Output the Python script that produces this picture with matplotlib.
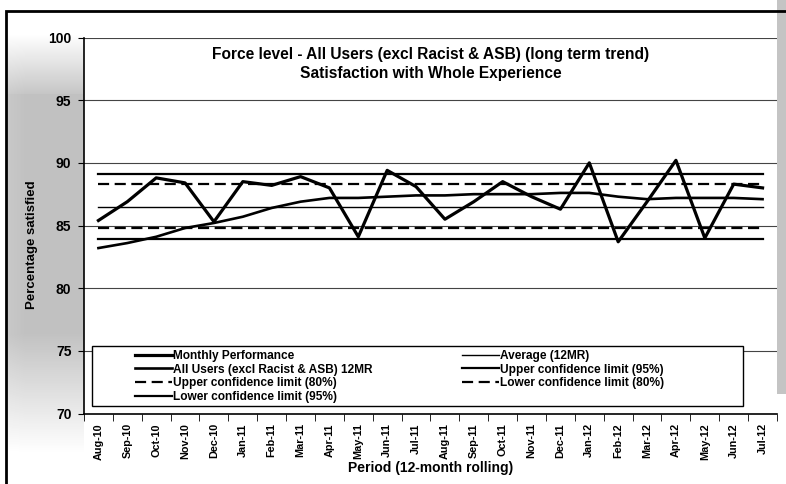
import matplotlib
matplotlib.use("Agg")
import matplotlib.pyplot as plt
import numpy as np
from matplotlib.patches import Rectangle

plt.rcParams['font.family'] = ['Liberation Sans', 'DejaVu Sans']
plt.rcParams['font.weight'] = 'bold'
plt.rcParams['axes.labelweight'] = 'bold'

# data
months = ['Aug-10', 'Sep-10', 'Oct-10', 'Nov-10', 'Dec-10', 'Jan-11', 'Feb-11', 'Mar-11',
          'Apr-11', 'May-11', 'Jun-11', 'Jul-11', 'Aug-11', 'Sep-11', 'Oct-11', 'Nov-11',
          'Dec-11', 'Jan-12', 'Feb-12', 'Mar-12', 'Apr-12', 'May-12', 'Jun-12', 'Jul-12']
monthly = [85.4, 86.9, 88.8, 88.4, 85.3, 88.5, 88.2, 88.9, 88.0, 84.1, 89.4, 88.1,
           85.5, 86.9, 88.5, 87.3, 86.3, 90.0, 83.7, 86.9, 90.2, 84.0, 88.3, 88.0]
rolling12 = [83.2, 83.6, 84.1, 84.8, 85.2, 85.7, 86.4, 86.9, 87.2, 87.2, 87.3, 87.4,
             87.4, 87.5, 87.5, 87.5, 87.6, 87.6, 87.3, 87.1, 87.2, 87.2, 87.2, 87.1]
average = 86.5
ucl95 = 89.1
lcl95 = 83.9
ucl80 = 88.3
lcl80 = 84.8

W, H = 786, 484
fig = plt.figure(figsize=(W / 100, H / 100), dpi=100)

# scanned grey shading down the left and right edges
shade = fig.add_axes([6 / W, 30 / H, 78 / W, 420 / H], zorder=-5)
prof = np.concatenate([np.linspace(1.0, 0.78, 60), np.full(240, 0.76), np.linspace(0.76, 1.0, 120)])
horiz = np.concatenate([np.linspace(0.9, 1.0, 20), np.ones(58)])
img = 1 - np.outer(1 - prof, horiz)
shade.imshow(img, cmap='gray', vmin=0, vmax=1, aspect='auto', interpolation='bilinear')
shade.axis('off')
fig.patches.append(Rectangle((777 / W, 90 / H), 9 / W, 394 / H, transform=fig.transFigure,
                             facecolor='#c4c4c4', edgecolor='none', zorder=-4))
# outer chart border (only top and left visible in the crop)
fig.patches.append(Rectangle((6 / W, -0.05), 1.1, (H - 11) / H + 0.05, transform=fig.transFigure,
                             facecolor='none', edgecolor='black', linewidth=2.0, zorder=10))

ax = fig.add_axes([84 / W, (H - 413.5) / H, 693 / W, 376 / H])
ax.set_facecolor('none')
x = np.arange(len(months))
n = len(months)

l_month, = ax.plot(x, monthly, color='black', lw=2.3, label='Monthly Performance', zorder=6)
l_roll, = ax.plot(x, rolling12, color='black', lw=1.9, label='All Users (excl Racist & ASB) 12MR', zorder=5)
l_avg, = ax.plot(x, [average] * n, color='black', lw=1.0, label='Average (12MR)')
l_u95, = ax.plot(x, [ucl95] * n, color='black', lw=1.6, label='Upper confidence limit (95%)')
l_u80, = ax.plot(x, [ucl80] * n, color='black', lw=1.6, dashes=(5, 2.5), label='Upper confidence limit (80%)')
l_l80, = ax.plot(x, [lcl80] * n, color='black', lw=1.6, dashes=(5, 2.5), label='Lower confidence limit (80%)')
l_l95, = ax.plot(x, [lcl95] * n, color='black', lw=1.6, label='Lower confidence limit (95%)')

ax.set_ylim(70, 100)
ax.set_xlim(-0.5, n - 0.5)
ax.set_yticks([70, 75, 80, 85, 90, 95, 100])
ax.tick_params(axis='y', labelsize=10, length=4, pad=5)
for yv in [75, 80, 85, 90, 95, 100]:
    ax.axhline(yv, color='#444444', lw=0.8, zorder=0)

ax.set_xticks(x)
ax.set_xticklabels(months, rotation=90, fontsize=7.8)
ax.set_xticks(np.arange(-0.5, n, 1), minor=True)
ax.tick_params(axis='x', which='major', length=0, pad=7)
ax.tick_params(axis='x', which='minor', length=5)

for s in ['top', 'right']:
    ax.spines[s].set_visible(False)
ax.spines['left'].set_linewidth(1.2)
ax.spines['bottom'].set_linewidth(1.2)

ax.set_ylabel('Percentage satisfied', fontsize=9.5, fontweight='bold')
ax.yaxis.set_label_coords(-0.066, 0.45)
ax.set_xlabel('Period (12-month rolling)', fontsize=10, fontweight='bold')
ax.xaxis.set_label_coords(0.5, -0.127)

ax.text(0.5, 0.956, 'Force level - All Users (excl Racist & ASB) (long term trend)',
        transform=ax.transAxes, ha='center', va='center', fontsize=11.2)
ax.text(0.5, 0.903, 'Satisfaction with Whole Experience',
        transform=ax.transAxes, ha='center', va='center', fontsize=11.2)

# legend box drawn by hand, entries placed on top of it
ax.add_patch(Rectangle(((92 - 84) / 693, (413.5 - 406) / 376), (743 - 92) / 693, 60 / 376,
                       transform=ax.transAxes, facecolor='white', edgecolor='black',
                       lw=1.0, zorder=7))
handles = [l_month, l_roll, l_u80, l_l95, l_avg, l_u95, l_l80]
leg = ax.legend(handles, [h.get_label() for h in handles], ncol=2, frameon=False,
                loc='upper left', bbox_to_anchor=((135 - 84) / 693, (413.5 - 350) / 376),
                borderpad=0, borderaxespad=0, handlelength=3.1, handletextpad=0.12,
                labelspacing=0.14, columnspacing=7.45, prop={'size': 8.6, 'weight': 'bold'})
leg.set_zorder(8)

fig.savefig('out.png', dpi=100)
